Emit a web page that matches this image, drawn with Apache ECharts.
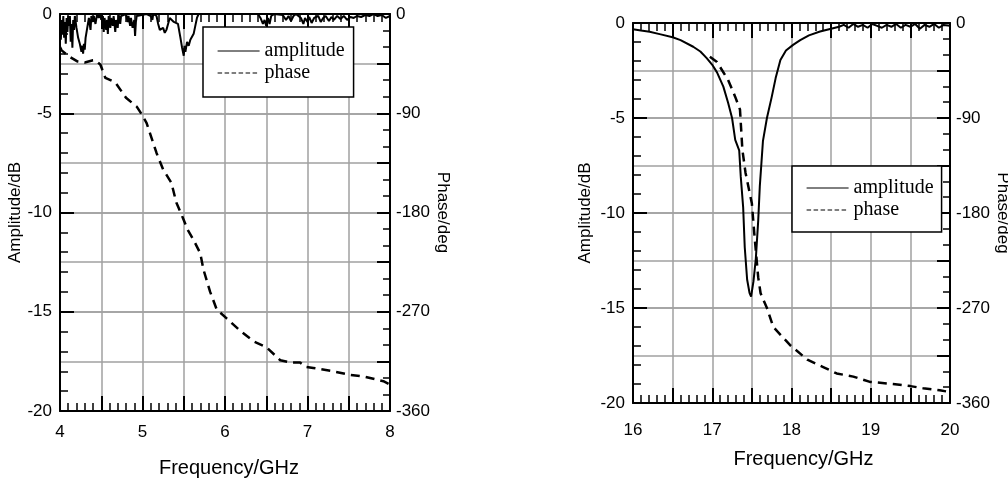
<!DOCTYPE html>
<html>
<head>
<meta charset="utf-8">
<script src="https://cdn.jsdelivr.net/npm/echarts@6/dist/echarts.min.js"></script>
<style>
  html, body { margin: 0; padding: 0; background: #fff; }
  #chart { width: 1008px; height: 485px; }
</style>
</head>
<body>
<div id="chart"></div>
<script>
// ---------- data ----------
// Left panel: 4–8 GHz
const leftAmpFreq = [4.00,4.01,4.02,4.03,4.04,4.05,4.06,4.07,4.08,4.09,4.10,4.11,4.12,4.13,4.14,4.15,4.16,4.17,4.18,4.20,4.22,4.24,4.26,4.27,4.28,4.29,4.30,4.31,4.33,4.35,4.37,4.38,4.40,4.41,4.43,4.45,4.47,4.49,4.50,4.52,4.53,4.54,4.56,4.57,4.58,4.59,4.61,4.62,4.64,4.65,4.67,4.68,4.70,4.71,4.73,4.74,4.76,4.80,4.82,4.83,4.85,4.86,4.88,4.90,4.91,4.92,4.93,4.95,5.05,5.10,5.12,5.13,5.17,5.19,5.21,5.23,5.25,5.27,5.29,5.31,5.33,5.35,5.38,5.40,5.43,5.46,5.48,5.50,5.51,5.52,5.54,5.56,5.58,5.60,5.62,5.64,5.66,5.68,6.40,6.43,6.46,6.48,6.50,6.52,6.54,6.56,6.60,6.70,6.74,6.77,6.80,6.83,6.86,6.92,6.95,6.97,7.00,7.02,7.05,7.08,7.10,7.13,7.16,7.19,7.22,7.26,7.29,7.32,7.36,7.40,7.44,7.48,7.52,7.56,7.60,7.65,7.70,7.75,7.80,7.85,7.90,7.95,8.00];
const leftAmp = [-0.2,-1.3,-0.3,-1.0,-0.1,-1.2,-0.4,-1.5,-0.2,-0.9,-0.1,-0.6,-0.1,-1.4,-0.5,-1.7,-0.3,-0.8,-0.1,-0.7,-1.2,-1.5,-1.9,-1.6,-2.0,-1.5,-1.8,-1.2,-0.7,-0.2,-0.8,-0.1,-0.4,-0.1,-0.5,0,-0.2,0,-0.3,-0.1,-0.9,-0.2,-0.8,-0.3,-1.0,-0.1,-0.7,-0.2,-0.6,-0.1,-0.9,-0.3,-0.7,0,-0.5,-0.1,0,0,-0.4,-0.1,-0.6,-0.2,-0.7,-0.3,-1.1,-0.4,-0.1,0,0,-0.1,-0.3,0,-0.1,-0.5,-0.8,-0.9,-0.7,-0.95,-0.8,-0.5,-0.2,-0.3,-0.4,-0.3,-0.5,-1.2,-1.7,-2.1,-1.6,-1.9,-1.4,-1.6,-1.3,-1.4,-1.0,-0.6,-0.2,0,0,-0.2,-0.5,-0.3,-0.6,-0.2,-0.5,-0.1,0,-0.05,-0.3,-0.1,-0.35,-0.1,0,-0.2,-0.5,-0.2,-0.4,-0.15,-0.45,-0.2,-0.3,-0.1,-0.4,-0.2,-0.1,-0.35,-0.15,-0.3,-0.1,-0.25,-0.1,-0.3,-0.15,-0.2,-0.1,-0.15,-0.05,-0.1,0,-0.1,-0.05,-0.2,-0.1];
const leftPhaseFreq = [4.00,4.02,4.10,4.21,4.30,4.40,4.43,4.49,4.55,4.67,4.80,4.93,5.00,5.05,5.17,5.25,5.35,5.41,5.49,5.55,5.62,5.70,5.74,5.82,5.90,6.02,6.18,6.35,6.50,6.67,6.80,6.91,6.98,7.07,7.31,7.50,7.70,7.92,8.00];
const leftPhase = [-30,-33,-38,-43,-44,-42,-42,-46,-58,-62,-76,-84,-92,-99,-126,-141,-153,-171,-185,-196,-205,-217,-232,-252,-268,-276,-287,-297,-302,-314,-316,-316,-320,-321,-324,-327,-329,-333,-336];

// Right panel: 16–20 GHz
const rightAmpFreq = [16.00,16.10,16.21,16.35,16.50,16.60,16.76,16.85,16.93,17.00,17.06,17.14,17.20,17.25,17.29,17.34,17.36,17.39,17.41,17.44,17.47,17.49,17.52,17.55,17.58,17.60,17.62,17.64,17.69,17.75,17.80,17.86,17.93,18.02,18.11,18.22,18.36,18.50,18.60,18.66,18.72,18.78,18.84,18.90,18.96,19.02,19.08,19.14,19.20,19.26,19.32,19.38,19.44,19.50,19.56,19.62,19.68,19.74,19.80,19.86,19.92,20.00];
const rightAmp = [-0.33,-0.4,-0.46,-0.6,-0.75,-0.9,-1.25,-1.5,-1.85,-2.2,-2.6,-3.35,-4.2,-5.0,-6.15,-6.7,-8.1,-9.7,-11.8,-13.5,-14.2,-14.4,-13.6,-12.4,-10.4,-8.6,-7.4,-6.2,-5.0,-3.9,-2.9,-1.95,-1.45,-1.15,-0.9,-0.65,-0.45,-0.3,-0.2,-0.1,-0.25,-0.05,-0.2,-0.1,-0.25,-0.05,-0.15,-0.25,-0.1,-0.2,-0.05,-0.25,-0.1,-0.2,-0.05,-0.3,-0.1,-0.2,-0.05,-0.25,-0.1,-0.15];
const rightPhaseFreq = [16.97,17.06,17.20,17.29,17.35,17.38,17.42,17.50,17.53,17.58,17.61,17.69,17.77,17.98,18.20,18.40,18.57,18.78,18.99,19.28,19.50,19.66,19.87,19.95];
const rightPhase = [-32,-37,-54,-70,-82,-120,-142,-171,-199,-241,-256,-270,-288,-305,-319,-326,-332,-335,-340,-342,-344,-346,-348,-349];

// tick labels
const leftFreqTicks = [4,5,6,7,8];
const rightFreqTicks = [16,17,18,19,20];
const ampTicks = [0,-5,-10,-15,-20];
const phaseTicks = [0,-90,-180,-270,-360];

const SANS = "'Liberation Sans', Arial, sans-serif";
const SERIF = "'Liberation Serif', 'Times New Roman', serif";
const GRIDC = '#a0a0a0';

function zip(a, b) { return a.map((v, i) => [v, b[i]]); }

function xAxes(gi, min, max, ticks, labelMargin, nameGap, namePad) {
  const common = {
    gridIndex: gi, type: 'value', min: min, max: max, interval: 0.5,
    axisLine: { show: true, onZero: false, lineStyle: { color: '#000', width: 2 } },
    axisTick: { show: true, inside: true, length: 15, lineStyle: { color: '#000', width: 2 } },
    minorTick: { show: true, splitNumber: 5, length: 8, lineStyle: { color: '#000', width: 1.5 } }
  };
  return [
    Object.assign({}, common, {
      position: 'bottom',
      splitLine: { show: true, lineStyle: { color: GRIDC, width: 1.5 } },
      axisLabel: { margin: labelMargin, fontSize: 17, color: '#000', fontFamily: SANS,
        formatter: v => ticks.includes(v) ? String(v) : '' },
      name: 'Frequency/GHz', nameLocation: 'middle', nameGap: nameGap,
      nameTextStyle: { fontSize: 20, color: '#000', fontFamily: SANS, padding: namePad }
    }),
    Object.assign({}, common, {
      position: 'top',
      splitLine: { show: false },
      axisLabel: { show: false }
    })
  ];
}

function yAxes(gi, ampGap, phaseGap) {
  return [
    {
      gridIndex: gi, type: 'value', position: 'left', min: -20, max: 0, interval: 5,
      axisLine: { show: true, onZero: false, lineStyle: { color: '#000', width: 2 } },
      axisTick: { show: true, inside: true, length: 14, lineStyle: { color: '#000', width: 2 } },
      minorTick: { show: true, splitNumber: 5, length: 8, lineStyle: { color: '#000', width: 1.5 } },
      splitLine: { show: true, lineStyle: { color: GRIDC, width: 1.5 } },
      axisLabel: { margin: 8, fontSize: 17, color: '#000', fontFamily: SANS,
        formatter: v => ampTicks.includes(v) ? String(v) : '' },
      name: 'Amplitude/dB', nameLocation: 'middle', nameGap: ampGap,
      nameTextStyle: { fontSize: 17, color: '#000', fontFamily: SANS }
    },
    {
      gridIndex: gi, type: 'value', position: 'right', min: -360, max: 0, interval: 45,
      axisLine: { show: true, onZero: false, lineStyle: { color: '#000', width: 2 } },
      axisTick: { show: true, inside: true, length: 13, lineStyle: { color: '#000', width: 2 } },
      minorTick: { show: true, splitNumber: 3, length: 7, lineStyle: { color: '#000', width: 1.5 } },
      splitLine: { show: true, lineStyle: { color: GRIDC, width: 1.5 } },
      axisLabel: { margin: 6, fontSize: 17, color: '#000', fontFamily: SANS,
        formatter: v => phaseTicks.includes(v) ? String(v) : '' },
      name: 'Phase/deg', nameLocation: 'middle', nameGap: phaseGap, nameRotate: -90,
      nameTextStyle: { fontSize: 17, color: '#000', fontFamily: SANS }
    }
  ];
}

function legend(left, top, padding) {
  return {
    left: left, top: top, orient: 'vertical',
    backgroundColor: '#fff', borderColor: '#000', borderWidth: 1.5,
    padding: padding, itemGap: 2, itemWidth: 42, itemHeight: 14,
    textStyle: { fontSize: 20, color: '#000', fontFamily: SERIF },
    selectedMode: false,
    data: [
      { name: 'amplitude', itemStyle: { opacity: 0 }, lineStyle: { color: '#000', width: 1, type: 'solid' } },
      { name: 'phase', itemStyle: { opacity: 0 }, lineStyle: { color: '#000', width: 1.2, type: [4.5, 2.5] } }
    ]
  };
}

const chart = echarts.init(document.getElementById('chart'), null, { renderer: 'canvas' });
chart.setOption({
  animation: false,
  backgroundColor: '#fff',
  grid: [
    { left: 60, top: 14, width: 330, height: 397, containLabel: false, outerBoundsMode: 'none' },
    { left: 633, top: 23, width: 317, height: 380, containLabel: false, outerBoundsMode: 'none' }
  ],
  legend: [
    legend(203, 27, [14, 9, 14, 14]),
    legend(792, 166, [12, 8, 12, 14])
  ],
  xAxis: [].concat(
    xAxes(0, 4, 8, leftFreqTicks, 13, 47, [0, 0, 0, 8]),
    xAxes(1, 16, 20, rightFreqTicks, 19, 46, [0, 0, 0, 24])
  ),
  yAxis: [].concat(yAxes(0, 28, 29), yAxes(1, 39, 44)),
  series: [
    { name: 'amplitude', type: 'line', xAxisIndex: 0, yAxisIndex: 0, data: zip(leftAmpFreq, leftAmp),
      symbol: 'none', lineStyle: { color: '#000', width: 2 }, itemStyle: { color: '#000' } },
    { name: 'phase', type: 'line', xAxisIndex: 0, yAxisIndex: 1, data: zip(leftPhaseFreq, leftPhase),
      symbol: 'none', lineStyle: { color: '#000', width: 2.5, type: [9, 6] }, itemStyle: { color: '#000' } },
    { name: 'amplitude', type: 'line', xAxisIndex: 2, yAxisIndex: 2, data: zip(rightAmpFreq, rightAmp),
      symbol: 'none', lineStyle: { color: '#000', width: 2 }, itemStyle: { color: '#000' } },
    { name: 'phase', type: 'line', xAxisIndex: 2, yAxisIndex: 3, data: zip(rightPhaseFreq, rightPhase),
      symbol: 'none', lineStyle: { color: '#000', width: 2.5, type: [9, 6] }, itemStyle: { color: '#000' } }
  ]
});
</script>
</body>
</html>
